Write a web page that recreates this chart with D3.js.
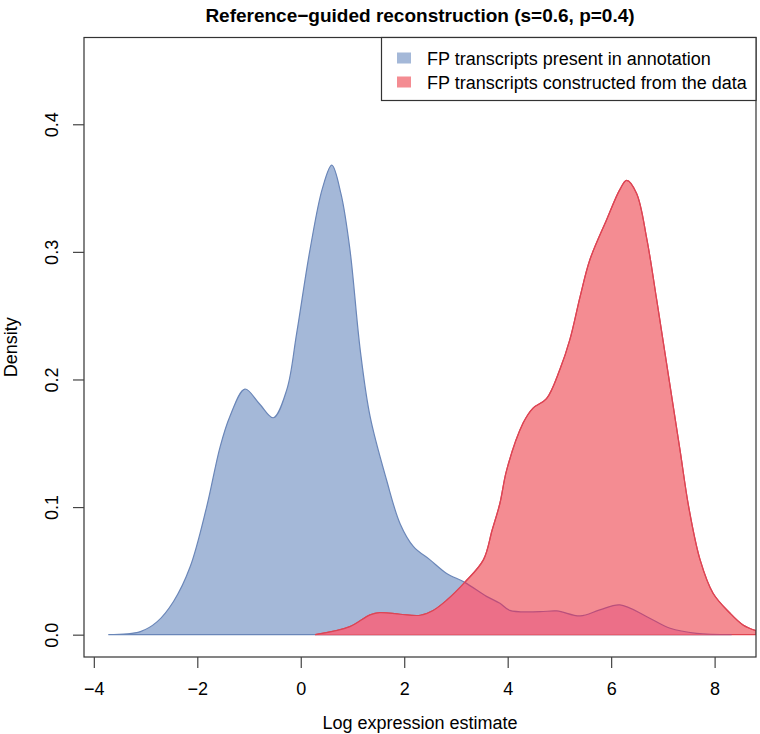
<!DOCTYPE html>
<html>
<head>
<meta charset="utf-8">
<script src="https://cdn.jsdelivr.net/npm/d3@7"></script>
<style>
  body { margin: 0; background: #fff; }
  text { font-family: "Liberation Sans", Arial, Helvetica, sans-serif; fill: #000; }
</style>
</head>
<body>
<div id="chart"></div>
<script>
// density: FP transcripts present in annotation
const annotX = [-3.72, -3.10, -2.78, -2.46, -2.14, -1.82, -1.56, -1.37, -1.08, -0.80, -0.53, -0.27, -0.08, 0.18, 0.42, 0.60, 0.78, 0.95, 1.15, 1.34, 1.66, 1.92, 2.18, 2.50, 2.82, 3.17, 3.59, 3.85, 4.04, 4.62, 4.95, 5.40, 5.78, 6.17, 6.69, 7.14, 7.65, 8.33];
const annotY = [0, 0.0024, 0.010, 0.026, 0.053, 0.100, 0.147, 0.171, 0.1925, 0.181, 0.170, 0.192, 0.236, 0.302, 0.350, 0.368, 0.345, 0.302, 0.223, 0.171, 0.121, 0.087, 0.069, 0.0586, 0.048, 0.041, 0.030, 0.0246, 0.019, 0.018, 0.0186, 0.0147, 0.0194, 0.0233, 0.0141, 0.005, 0.001, 0];

// FP transcripts constructed from the data
const dataX = [0.28, 0.95, 1.34, 1.53, 1.92, 2.31, 2.56, 2.82, 3.17, 3.53, 3.70, 3.85, 3.98, 4.30, 4.49, 4.75, 5.01, 5.20, 5.40, 5.59, 5.91, 6.17, 6.30, 6.49, 6.69, 6.88, 7.07, 7.33, 7.50, 7.72, 7.97, 8.30, 8.55, 8.80];
const dataY = [0, 0.0063, 0.0155, 0.0173, 0.016, 0.0152, 0.019, 0.027, 0.041, 0.0586, 0.082, 0.103, 0.129, 0.166, 0.1776, 0.185, 0.208, 0.231, 0.265, 0.294, 0.325, 0.349, 0.356, 0.346, 0.310, 0.2625, 0.213, 0.145, 0.10, 0.0586, 0.0325, 0.0168, 0.0076, 0.0031];

const xTicks = [-4, -2, 0, 2, 4, 6, 8];
const yTicks = [0, 0.1, 0.2, 0.3, 0.4];
const legendLabels = ["FP transcripts present in annotation", "FP transcripts constructed from the data"];

const W = 760, H = 734;
const box = { left: 84, right: 756, top: 37.5, bottom: 657 };
const FONT = "'Liberation Sans', Arial, sans-serif";

const svg = d3.select("#chart").append("svg")
  .attr("width", W)
  .attr("height", H);

const x = d3.scaleLinear().domain([-4.19, 8.80]).range([box.left, box.right]);
const y = d3.scaleLinear().domain([-0.0175, 0.468]).range([box.bottom, box.top]);

const annot = annotX.map((v, i) => ({ x: v, y: annotY[i] }));
const constructed = dataX.map((v, i) => ({ x: v, y: dataY[i] }));

const curve = d3.curveCatmullRom.alpha(0.5);

const area = d3.area()
  .x(d => x(d.x))
  .y0(y(0))
  .y1(d => y(Math.max(0, d.y)))
  .curve(curve);

const line = d3.line()
  .x(d => x(d.x))
  .y(d => y(d.y))
  .curve(curve);

// clips
const defs = svg.append("defs");
defs.append("clipPath").attr("id", "plotclip")
  .append("rect")
  .attr("x", box.left).attr("y", box.top)
  .attr("width", box.right - box.left).attr("height", box.bottom - box.top);
defs.append("clipPath").attr("id", "annotclip")
  .append("path").attr("d", area(annot));
defs.append("clipPath").attr("id", "dataclip")
  .append("path").attr("d", area(constructed));

const plot = svg.append("g").attr("clip-path", "url(#plotclip)");

// blue density
plot.append("path")
  .attr("d", area(annot))
  .attr("fill", "#a4b8d8")
  .attr("stroke", "#6a86b8")
  .attr("stroke-width", 1.2);

// red density
plot.append("path")
  .attr("d", area(constructed))
  .attr("fill", "#f48c92")
  .attr("stroke", "#e0434f")
  .attr("stroke-width", 1.2);

// overlap of the two
plot.append("g").attr("clip-path", "url(#annotclip)")
  .append("path")
  .attr("d", area(constructed))
  .attr("fill", "#ec6f88");

// outlines on top
plot.append("g").attr("clip-path", "url(#dataclip)")
  .append("path")
  .attr("d", line(annot))
  .attr("fill", "none")
  .attr("stroke", "#b9507c")
  .attr("stroke-width", 1.2);
plot.append("path")
  .attr("d", line(constructed))
  .attr("fill", "none")
  .attr("stroke", "#dc4555")
  .attr("stroke-width", 1.2);

// box
svg.append("rect")
  .attr("x", box.left).attr("y", box.top)
  .attr("width", box.right - box.left).attr("height", box.bottom - box.top)
  .attr("fill", "none")
  .attr("stroke", "#333")
  .attr("stroke-width", 1.2);

// x axis
const xAxis = svg.append("g")
  .attr("transform", `translate(0, ${box.bottom})`)
  .call(d3.axisBottom(x).tickValues(xTicks).tickSize(11).tickPadding(14).tickSizeOuter(0));
xAxis.select(".domain").remove();
xAxis.selectAll(".tick line").attr("stroke", "#444").attr("stroke-width", 1.2);
xAxis.selectAll(".tick text")
  .attr("font-family", FONT)
  .attr("font-size", 18)
  .attr("fill", "#000");

// y axis
const yAxis = svg.append("g")
  .attr("transform", `translate(${box.left}, 0)`)
  .call(d3.axisLeft(y).tickValues(yTicks).tickFormat(d3.format(".1f")).tickSize(11).tickSizeOuter(0));
yAxis.select(".domain").remove();
yAxis.selectAll(".tick line").attr("stroke", "#444").attr("stroke-width", 1.2);
yAxis.selectAll(".tick text")
  .attr("x", null).attr("dy", null)
  .attr("transform", "translate(-26, 0) rotate(-90)")
  .attr("text-anchor", "middle")
  .attr("font-family", FONT)
  .attr("font-size", 18)
  .attr("fill", "#000");

// titles
svg.append("text")
  .attr("x", (box.left + box.right) / 2)
  .attr("y", 22)
  .attr("text-anchor", "middle")
  .attr("font-size", 19)
  .attr("font-weight", "bold")
  .text("Reference\u2212guided reconstruction (s=0.6, p=0.4)");

svg.append("text")
  .attr("x", (box.left + box.right) / 2)
  .attr("y", 729)
  .attr("text-anchor", "middle")
  .attr("font-size", 18)
  .text("Log expression estimate");

svg.append("text")
  .attr("transform", `translate(17, ${(box.top + box.bottom) / 2}) rotate(-90)`)
  .attr("text-anchor", "middle")
  .attr("font-size", 18)
  .text("Density");

// legend
const legend = svg.append("g");
legend.append("rect")
  .attr("x", 381.5).attr("y", box.top)
  .attr("width", box.right - 381.5).attr("height", 63)
  .attr("fill", "#fff")
  .attr("stroke", "#333")
  .attr("stroke-width", 1.2);
const swatches = ["#a4b8d8", "#f48c92"];
legendLabels.forEach((lab, i) => {
  legend.append("rect")
    .attr("x", 397).attr("y", 52.5 + i * 24)
    .attr("width", 14).attr("height", 11)
    .attr("fill", swatches[i]);
  legend.append("text")
    .attr("x", 427).attr("y", 64.5 + i * 24)
    .attr("font-size", 18)
    .text(lab);
});
</script>
</body>
</html>
